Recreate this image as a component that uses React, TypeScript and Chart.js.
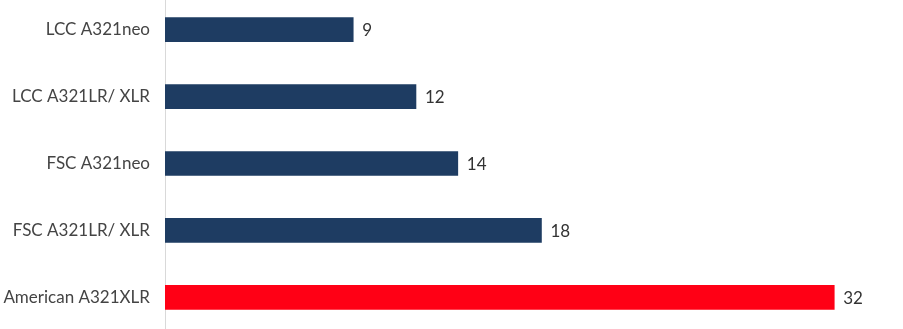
import React, { useEffect, useRef } from "react";
import { Chart, registerables } from "chart.js";

Chart.register(...registerables);

const categories = ["LCC A321neo", "LCC A321LR/ XLR", "FSC A321neo", "FSC A321LR/ XLR", "American A321XLR"];
const values = [9, 12, 14, 18, 32];
const barColors = ["#1e3c62", "#1e3c62", "#1e3c62", "#1e3c62", "#ff0015"];

const valueLabels = {
  id: "valueLabels",
  afterDatasetsDraw(chart: any) {
    const ctx = chart.ctx;
    const meta = chart.getDatasetMeta(0);
    ctx.save();
    ctx.font = "17px Lato";
    ctx.fillStyle = "#333333";
    ctx.textAlign = "left";
    ctx.textBaseline = "middle";
    meta.data.forEach((bar: any, i: number) => {
      ctx.fillText(String(values[i]), bar.x + 9, bar.y + 1);
    });
    ctx.restore();
  },
};

export default function App() {
  const ref = useRef<HTMLCanvasElement>(null);
  useEffect(() => {
    document.body.style.margin = "0";
    document.body.style.overflow = "hidden";
    const chart = new Chart(ref.current!, {
      type: "bar",
      data: {
        labels: categories,
        datasets: [
          {
            data: values,
            backgroundColor: barColors,
            barThickness: 24,
          },
        ],
      },
      options: {
        indexAxis: "y",
        animation: false,
        responsive: false,
        maintainAspectRatio: false,
        layout: { padding: { right: 6, top: 0, bottom: 0, left: 0 } },
        plugins: { legend: { display: false }, tooltip: { enabled: false } },
        scales: {
          x: { display: false, min: 0, max: 35 },
          y: {
            afterFit: (s: any) => {
              s.width = 165;
            },
            grid: { display: false, drawTicks: false },
            border: { display: true, color: "#d9d9d9", width: 1 },
            ticks: {
              padding: 15,
              color: "#444444",
              font: { family: "Lato", size: 17 },
            },
          },
        },
      },
      plugins: [valueLabels],
    });
    return () => chart.destroy();
  }, []);
  return (
    <div style={{ position: "fixed", left: 0, top: 0, width: 903, height: 329, overflow: "hidden" }}>
      <div style={{ position: "absolute", left: 0, top: -29, width: 903, height: 385 }}>
        <canvas ref={ref} width={903} height={385} style={{ width: 903, height: 385 }} />
      </div>
    </div>
  );
}
